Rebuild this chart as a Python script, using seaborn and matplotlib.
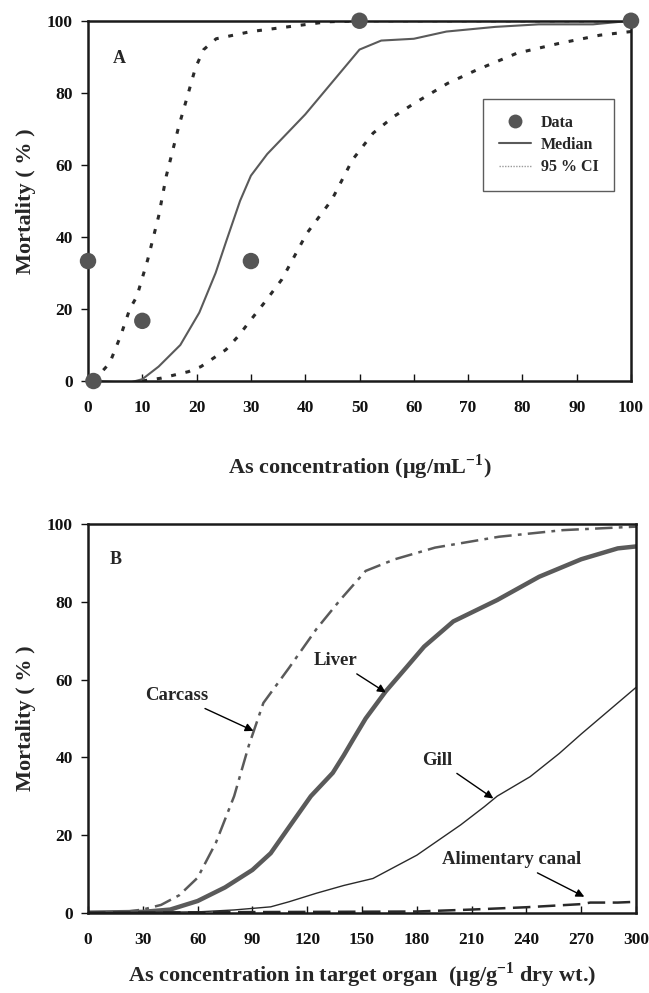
import matplotlib
matplotlib.use("Agg")
import matplotlib.pyplot as plt
from matplotlib.lines import Line2D
import seaborn as sns

# ---- Panel A: mortality vs. As concentration in water ----
data_x = [0, 1, 10, 30, 50, 100]
data_y = [33.3, 0, 16.7, 33.3, 100, 100]

median_x = [1, 5, 8, 10, 13, 17, 20.5, 23.5, 25.5, 28, 30, 33, 40, 45, 50, 54, 60, 66, 75, 83, 93, 100]
median_y = [0, -0.3, -0.3, 0.5, 4, 10, 19, 30, 39, 50, 57, 63, 74, 83, 92, 94.5, 95, 97, 98.3, 99, 99, 100]

ci_low_x = [1, 4, 6, 7.7, 9, 11, 13, 14.4, 16.7, 18.3, 19.8, 21.3, 23.6, 30, 44, 50, 100]
ci_low_y = [0, 5, 12.5, 20, 23.5, 33.7, 45.7, 56.8, 70.6, 79, 87, 92, 95, 97, 99.7, 100, 100]

ci_high_x = [10, 13.5, 18.5, 20.8, 25.4, 27.7, 30, 32.3, 35.7, 40.3, 44.9, 48.7, 52.5, 56.3, 60, 66.2, 71.5, 79, 86.7, 94.3, 100]
ci_high_y = [0, 0.8, 2.6, 4, 8.7, 12.5, 17, 21.4, 28.2, 41, 50.3, 61.4, 68.8, 73.4, 77, 82.6, 86.3, 91, 93.7, 96, 97]

# ---- Panel B: mortality vs. As concentration in target organ ----
carcass_x = [0, 20, 30, 40, 50, 60, 70, 80, 88, 96, 110, 125, 138, 152, 168, 190, 225, 260, 300]
carcass_y = [0, 0.2, 0.8, 2, 4.5, 9, 18, 30, 43, 54, 63, 73, 80.5, 88, 91, 94, 96.8, 98.5, 99.4]

liver_x = [0, 30, 45, 60, 75, 90, 100, 110, 122, 134, 140, 145, 152, 163, 174, 184, 200, 224, 247, 270, 290, 300]
liver_y = [0, 0.2, 0.8, 3, 6.5, 11, 15.3, 22, 30, 36, 40.5, 44.5, 50, 57, 63, 68.5, 75, 80.5, 86.5, 91, 93.8, 94.3]

gill_x = [0, 60, 80, 100, 110, 125, 140, 156, 168, 180, 192, 204, 217, 224, 242, 258, 270, 285, 300]
gill_y = [0, 0.2, 0.7, 1.5, 2.8, 5, 7, 8.8, 11.8, 14.8, 18.7, 22.6, 27.3, 30, 35, 41, 46, 52, 58]

canal_x = [0, 60, 120, 180, 210, 240, 270, 275, 290, 300]
canal_y = [0, 0.1, 0.2, 0.3, 0.8, 1.4, 2.2, 2.6, 2.6, 2.8]

ticks_a = [0, 10, 20, 30, 40, 50, 60, 70, 80, 90, 100]
ticks_b = [0, 30, 60, 90, 120, 150, 180, 210, 240, 270, 300]
ticks_y = [0, 20, 40, 60, 80, 100]

sns.set_style("ticks")
plt.rcParams["font.family"] = ["Liberation Serif", "DejaVu Serif"]
plt.rcParams["font.weight"] = "bold"
plt.rcParams["axes.labelweight"] = "bold"
plt.rcParams["mathtext.fontset"] = "custom"
plt.rcParams["mathtext.rm"] = "Liberation Serif"
plt.rcParams["mathtext.bf"] = "Liberation Serif:bold"

fig = plt.figure(figsize=(6.49, 9.93), dpi=100)
ax_a = fig.add_axes([0.1356, 0.6163, 0.8367, 0.3628])
ax_b = fig.add_axes([0.1356, 0.0809, 0.8444, 0.3911])

DARK = "#2a2a2a"
GRAY = "#5a5a5a"

# Panel A curves
sns.lineplot(x=ci_low_x, y=ci_low_y, ax=ax_a, color=DARK, lw=2.2,
             linestyle=(0, (1.6, 3.2)), estimator=None, sort=False)
sns.lineplot(x=ci_high_x, y=ci_high_y, ax=ax_a, color=DARK, lw=2.2,
             linestyle=(0, (1.6, 3.2)), estimator=None, sort=False)
sns.lineplot(x=median_x, y=median_y, ax=ax_a, color=GRAY, lw=1.5,
             estimator=None, sort=False)
sns.scatterplot(x=data_x, y=data_y, ax=ax_a, color="#555555", s=140,
                edgecolor="none", zorder=5, clip_on=False)

# Panel B curves
sns.lineplot(x=carcass_x, y=carcass_y, ax=ax_b, color=GRAY, lw=1.8,
             linestyle=(0, (7, 2.5, 1.5, 2.5)), estimator=None, sort=False)
sns.lineplot(x=liver_x, y=liver_y, ax=ax_b, color=GRAY, lw=3.2,
             estimator=None, sort=False)
sns.lineplot(x=gill_x, y=gill_y, ax=ax_b, color=DARK, lw=1.0,
             estimator=None, sort=False)
sns.lineplot(x=canal_x, y=canal_y, ax=ax_b, color=DARK, lw=1.8,
             linestyle=(0, (7, 3)), estimator=None, sort=False)

for ax, xt, xmax in ((ax_a, ticks_a, 100), (ax_b, ticks_b, 300)):
    ax.set_xlim(0, xmax)
    ax.set_ylim(0, 100)
    ax.set_xticks(xt)
    ax.set_yticks(ticks_y)
    ax.tick_params(axis="x", direction="in", length=5, width=1.0, pad=14,
                   labelsize=12.5, colors="#111111")
    ax.tick_params(axis="y", direction="out", length=5, width=1.0, pad=6,
                   labelsize=12.5, colors="#111111")
    for lab in ax.get_xticklabels() + ax.get_yticklabels():
        lab.set_fontweight("bold")
    for sp in ax.spines.values():
        sp.set_visible(True)
        sp.set_linewidth(1.8)
        sp.set_color("#1a1a1a")
    ax.set_ylabel("Mortality ( % )", fontsize=16, fontweight="bold", labelpad=8)

ax_a.set_xlabel("As concentration (\u03bcg/mL$^{\\mathbf{-1}}$)", fontsize=16,
                fontweight="bold", labelpad=26)
ax_b.set_xlabel("As concentration in target organ  (\u03bcg/g$^{\\mathbf{-1}}$ dry wt.)",
                fontsize=16, fontweight="bold", labelpad=9)

ax_a.text(0.057, 0.895, "A", transform=ax_a.transAxes, fontsize=13,
          fontweight="bold", ha="center", va="center")
ax_b.text(0.051, 0.91, "B", transform=ax_b.transAxes, fontsize=13,
          fontweight="bold", ha="center", va="center")

# Legend for panel A
handles = [
    Line2D([], [], marker="o", color="none", markerfacecolor="#555555",
           markeredgecolor="none", markersize=10),
    Line2D([], [], color=GRAY, lw=1.5),
    Line2D([], [], color="#9a9a9a", lw=1.0, linestyle=(0, (1, 1))),
]
leg = ax_a.legend(handles, ["Data", "Median", "95 % CI"], loc="upper left",
                  bbox_to_anchor=(0.713, 0.806), frameon=True, fancybox=False,
                  edgecolor="#333333", borderpad=1.0, labelspacing=0.4,
                  handlelength=2.0, handletextpad=0.6, prop={"size": 11.5, "weight": "bold"})
leg.get_frame().set_linewidth(1.0)

# Organ labels with arrows in panel B
arrow = dict(arrowstyle="-|>", color="black", lw=1.0, mutation_scale=12,
             shrinkA=2, shrinkB=0)
ax_b.annotate("Carcass", xy=(90.6, 46.8), xytext=(48.7, 55.9), ha="center", va="center",
              fontsize=13.5, fontweight="bold", arrowprops=arrow)
ax_b.annotate("Liver", xy=(163, 56.7), xytext=(135.8, 64.9), ha="center", va="center",
              fontsize=13.5, fontweight="bold", arrowprops=arrow)
ax_b.annotate("Gill", xy=(221.9, 29.4), xytext=(191.3, 39.3), ha="center", va="center",
              fontsize=13.5, fontweight="bold", arrowprops=arrow)
ax_b.annotate("Alimentary canal", xy=(271.7, 4.1), xytext=(232, 13.6), ha="center", va="center",
              fontsize=13.5, fontweight="bold", arrowprops=arrow)

fig.savefig("out.png", dpi=100)
